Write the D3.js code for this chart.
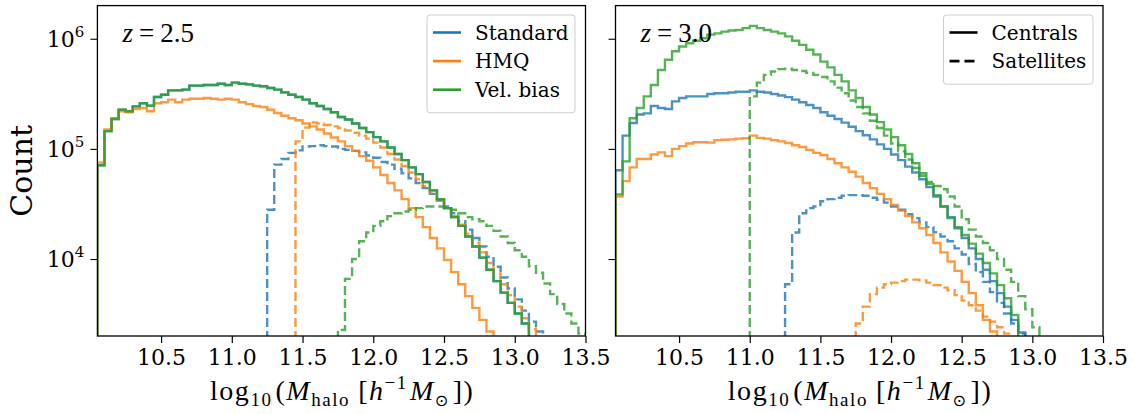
<!DOCTYPE html>
<html>
<head>
<meta charset="utf-8">
<script src="https://cdn.jsdelivr.net/npm/d3@7"></script>
<style>
body { margin: 0; background: #fff; }
text { font-family: "DejaVu Serif", serif; fill: #000; }
.math { font-family: "Liberation Serif", "DejaVu Serif", serif; }
</style>
</head>
<body>
<script>
const W = 1137, H = 414;

// binning and axes
const binWidth = 0.05;
const massDomain = [10.05, 13.5];
const countDomain = [2000, 2e6];
const xTicks = [10.5, 11.0, 11.5, 12.0, 12.5, 13.0, 13.5];
const yTicks = [1e4, 1e5, 1e6];
const models = ["Standard", "HMQ", "Vel. bias"];
const colors = ["#1f77b4", "#ff7f0e", "#2ca02c"];
const kinds = ["Centrals", "Satellites"];
const redshifts = ["2.5", "3.0"];

// first bin of each histogram (Standard, HMQ, Vel. bias)
const cenStart = [10.05, 10.05, 10.05];
const sat25Start = [11.25, 11.45, 11.75];
const sat30Start = [11.25, 11.75, 11.0];

// z = 2.5, centrals
const cen25Std = [7.1e4, 1.45e5, 1.87e5, 2.27e5, 2.2e5, 2.43e5, 2.6e5, 2.47e5, 2.96e5, 3.1e5,
  3.4e5, 3.4e5, 3.45e5, 3.75e5, 3.75e5, 3.8e5, 3.8e5, 3.9e5, 3.8e5, 4.0e5,
  3.9e5, 3.85e5, 3.75e5, 3.7e5, 3.57e5, 3.45e5, 3.26e5, 3.1e5, 2.96e5, 2.8e5,
  2.6e5, 2.45e5, 2.3e5, 2.15e5, 1.95e5, 1.85e5, 1.7e5, 1.55e5, 1.42e5, 1.28e5,
  1.17e5, 1.03e5, 9.0e4, 7.9e4, 6.8e4, 5.9e4, 5.0e4, 4.2e4, 3.5e4, 2.9e4,
  2.4e4, 2.0e4, 1.6e4, 1.3e4, 1.03e4, 8.0e3, 6.3e3, 4.95e3, 4.0e3, 3.2e3, 2.6e3];
const cen25Hmq = [7.5e4, 1.5e5, 1.9e5, 2.2e5, 2.15e5, 2.3e5, 2.35e5, 2.2e5, 2.6e5, 2.65e5,
  2.8e5, 2.65e5, 2.8e5, 2.85e5, 2.85e5, 2.9e5, 2.85e5, 2.8e5, 2.85e5, 2.8e5,
  2.65e5, 2.55e5, 2.45e5, 2.4e5, 2.27e5, 2.12e5, 2.0e5, 1.9e5, 1.82e5, 1.7e5,
  1.6e5, 1.5e5, 1.38e5, 1.27e5, 1.17e5, 1.06e5, 9.6e4, 8.6e4, 7.8e4, 6.8e4,
  5.8e4, 4.9e4, 4.2e4, 3.5e4, 2.9e4, 2.4e4, 1.95e4, 1.55e4, 1.25e4, 9.8e3,
  7.6e3, 5.9e3, 4.6e3, 3.6e3, 2.8e3, 2.2e3];
const cen25Vel = [7.1e4, 1.45e5, 1.87e5, 2.27e5, 2.2e5, 2.43e5, 2.6e5, 2.47e5, 2.96e5, 3.1e5,
  3.4e5, 3.4e5, 3.45e5, 3.75e5, 3.75e5, 3.8e5, 3.8e5, 3.9e5, 3.8e5, 4.0e5,
  3.9e5, 3.85e5, 3.75e5, 3.7e5, 3.57e5, 3.45e5, 3.26e5, 3.1e5, 2.96e5, 2.8e5,
  2.6e5, 2.45e5, 2.3e5, 2.15e5, 1.95e5, 1.85e5, 1.7e5, 1.55e5, 1.42e5, 1.28e5,
  1.17e5, 1.03e5, 9.0e4, 7.9e4, 6.8e4, 5.9e4, 5.0e4, 4.2e4, 3.5e4, 2.9e4,
  2.4e4, 2.0e4, 1.6e4, 1.3e4, 1.03e4, 8.0e3, 6.3e3, 4.95e3, 4.0e3, 3.2e3, 2.6e3];

// z = 2.5, satellites
const sat25Std = [2.8e4, 7.2e4, 8.1e4, 9.2e4, 9.7e4, 1.05e5, 1.06e5, 1.08e5, 1.06e5, 1.05e5,
  1.0e5, 9.8e4, 9.6e4, 9.3e4, 8.7e4, 8.3e4, 7.6e4, 7.2e4, 6.6e4, 6.0e4,
  5.4e4, 4.9e4, 4.4e4, 3.9e4, 3.4e4, 3.0e4, 2.6e4, 2.2e4, 1.85e4, 1.55e4,
  1.3e4, 1.05e4, 8.5e3, 6.8e3, 5.4e3, 4.3e3, 3.4e3, 2.7e3, 2.2e3];
const sat25Hmq = [1.17e5, 1.56e5, 1.74e5, 1.7e5, 1.65e5, 1.6e5, 1.55e5, 1.47e5, 1.4e5, 1.32e5,
  1.24e5, 1.14e5, 1.03e5, 9.0e4, 8.0e4, 7.0e4, 6.1e4, 5.3e4, 4.6e4, 4.0e4,
  3.4e4, 2.9e4, 2.45e4, 2.05e4, 1.7e4, 1.4e4, 1.15e4, 9.2e3, 7.4e3, 5.9e3,
  4.7e3, 3.7e3, 2.9e3, 2.3e3];
const sat25Vel = [2.27e3, 6.6e3, 1.0e4, 1.45e4, 1.74e4, 2.0e4, 2.2e4, 2.45e4, 2.6e4, 2.7e4,
  2.8e4, 2.9e4, 3.0e4, 3.0e4, 3.0e4, 2.9e4, 2.8e4, 2.6e4, 2.4e4, 2.3e4,
  2.2e4, 2.0e4, 1.8e4, 1.6e4, 1.4e4, 1.2e4, 1.05e4, 8.6e3, 7.5e3, 6.0e3,
  4.8e3, 3.9e3, 3.2e3, 2.6e3, 2.1e3];

// z = 3.0, centrals
const cen30Std = [6.4e4, 1.32e5, 1.72e5, 2.05e5, 2.1e5, 2.45e5, 2.35e5, 2.3e5, 2.7e5, 2.9e5,
  3.0e5, 3.0e5, 3.0e5, 3.15e5, 3.2e5, 3.2e5, 3.25e5, 3.3e5, 3.3e5, 3.4e5,
  3.3e5, 3.25e5, 3.15e5, 3.05e5, 2.95e5, 2.8e5, 2.65e5, 2.5e5, 2.35e5, 2.15e5,
  2.0e5, 1.87e5, 1.73e5, 1.59e5, 1.45e5, 1.33e5, 1.22e5, 1.1e5, 1.0e5, 8.9e4,
  7.9e4, 6.9e4, 6.1e4, 5.3e4, 4.5e4, 3.7e4, 3.0e4, 2.4e4, 1.9e4, 1.55e4,
  1.25e4, 1.0e4, 8.0e3, 6.3e3, 4.9e3, 3.7e3, 2.8e3, 2.15e3];
const cen30Hmq = [3.7e4, 5.1e4, 6.8e4, 8.1e4, 8.1e4, 8.9e4, 9.3e4, 8.6e4, 1.0e5, 1.06e5,
  1.12e5, 1.15e5, 1.15e5, 1.14e5, 1.2e5, 1.21e5, 1.22e5, 1.24e5, 1.25e5, 1.32e5,
  1.26e5, 1.24e5, 1.2e5, 1.17e5, 1.13e5, 1.08e5, 1.04e5, 9.8e4, 9.2e4, 8.8e4,
  8.1e4, 7.4e4, 6.8e4, 6.2e4, 5.6e4, 4.9e4, 4.4e4, 3.9e4, 3.5e4, 3.1e4,
  2.75e4, 2.45e4, 2.15e4, 1.9e4, 1.65e4, 1.4e4, 1.15e4, 9.5e3, 7.8e3, 6.2e3,
  4.9e3, 3.8e3, 2.8e3, 2.2e3];
const cen30Vel = [3.86e4, 7.7e4, 1.9e5, 2.35e5, 3.0e5, 3.8e5, 5.2e5, 6.45e5, 7.7e5, 8.5e5,
  9.1e5, 9.6e5, 1.01e6, 1.09e6, 1.12e6, 1.16e6, 1.19e6, 1.2e6, 1.25e6, 1.31e6,
  1.25e6, 1.2e6, 1.16e6, 1.12e6, 1.05e6, 9.6e5, 8.8e5, 7.95e5, 7.2e5, 6.2e5,
  5.5e5, 4.7e5, 4.1e5, 3.4e5, 2.9e5, 2.4e5, 2.05e5, 1.75e5, 1.5e5, 1.28e5,
  1.08e5, 9.0e4, 7.4e4, 6.0e4, 4.8e4, 3.8e4, 3.0e4, 2.35e4, 1.95e4, 1.65e4,
  1.38e4, 1.12e4, 9.2e3, 7.4e3, 5.8e3, 4.4e3, 3.1e3];

// z = 3.0, satellites
const sat30Std = [5.9e3, 1.74e4, 2.6e4, 2.9e4, 3.0e4, 3.35e4, 3.5e4, 3.6e4, 3.75e4, 3.8e4,
  3.8e4, 3.75e4, 3.6e4, 3.45e4, 3.25e4, 3.0e4, 2.8e4, 2.55e4, 2.35e4, 2.15e4,
  1.95e4, 1.75e4, 1.6e4, 1.45e4, 1.25e4, 1.1e4, 9.0e3, 7.6e3, 6.2e3, 5.0e3,
  4.0e3, 3.2e3, 2.6e3, 2.1e3];
const sat30Hmq = [2.6e3, 3.7e3, 4.8e3, 5.5e3, 5.9e3, 6.1e3, 6.3e3, 6.5e3, 6.5e3, 6.4e3,
  6.1e3, 5.8e3, 5.5e3, 5.2e3, 4.7e3, 4.2e3, 3.8e3, 3.4e3, 3.0e3, 2.7e3,
  2.4e3, 2.1e3];
const sat30Vel = [3.0e5, 4.0e5, 4.7e5, 5.05e5, 5.3e5, 5.35e5, 5.2e5, 5.1e5, 4.9e5, 4.7e5,
  4.5e5, 4.1e5, 3.6e5, 3.2e5, 2.75e5, 2.4e5, 2.1e5, 1.8e5, 1.55e5, 1.32e5,
  1.12e5, 9.5e4, 8.0e4, 6.7e4, 5.7e4, 5.0e4, 4.6e4, 4.3e4, 3.7e4, 3.0e4,
  2.3e4, 1.85e4, 1.6e4, 1.4e4, 1.2e4, 1.0e4, 8.0e3, 6.2e3, 4.6e3, 3.5e3, 2.4e3];

const panels = [
  {z: redshifts[0], left: 97.4, right: 585.5,
   cen: [cen25Std, cen25Hmq, cen25Vel], sat: [sat25Std, sat25Hmq, sat25Vel], satStart: sat25Start},
  {z: redshifts[1], left: 615.5, right: 1103,
   cen: [cen30Std, cen30Hmq, cen30Vel], sat: [sat30Std, sat30Hmq, sat30Vel], satStart: sat30Start}
];
const plotTop = 5.6, plotBottom = 336;

const svg = d3.select("body").append("svg").attr("width", W).attr("height", H);
const y = d3.scaleLog().domain(countDomain).range([plotBottom, plotTop]);

function stepPath(x, start, counts) {
  const yb = plotBottom + 4;
  const pts = [];
  const e = i => x(start + i * binWidth);
  pts.push([e(0), yb]);
  counts.forEach((c, i) => {
    const yy = Math.min(y(c), yb);
    pts.push([e(i), yy], [e(i + 1), yy]);
  });
  pts.push([e(counts.length), yb]);
  return d3.line()(pts);
}

panels.forEach((p, pi) => {
  const x = d3.scaleLinear().domain(massDomain).range([p.left, p.right]);
  const g = svg.append("g");

  g.append("clipPath").attr("id", "clip" + pi)
    .append("rect").attr("x", p.left).attr("y", plotTop)
    .attr("width", p.right - p.left).attr("height", plotBottom - plotTop);

  const plot = g.append("g").attr("clip-path", "url(#clip" + pi + ")");
  models.forEach((m, mi) => {
    plot.append("path")
      .attr("d", stepPath(x, cenStart[mi], p.cen[mi]))
      .attr("fill", "none").attr("stroke", colors[mi]).attr("stroke-opacity", 0.8)
      .attr("stroke-width", 2.4);
    plot.append("path")
      .attr("d", stepPath(x, p.satStart[mi], p.sat[mi]))
      .attr("fill", "none").attr("stroke", colors[mi]).attr("stroke-opacity", 0.8)
      .attr("stroke-width", 2.4).attr("stroke-dasharray", "9,4");
  });

  // x axis
  const xa = g.append("g").attr("transform", `translate(0,${plotBottom})`)
    .call(d3.axisBottom(x).tickValues(xTicks).tickFormat(d3.format(".1f")).tickSize(7).tickPadding(6));
  xa.select(".domain").remove();
  xa.selectAll("line").attr("stroke-width", 1.2);
  xa.selectAll("text").attr("font-size", 22).attr("font-family", "DejaVu Serif");

  // y axis (major + minor)
  const minor = [];
  for (let k = 3; k <= 6; k++) for (let j = 2; j <= 9; j++) {
    const v = j * Math.pow(10, k);
    if (v >= countDomain[0] && v <= countDomain[1]) minor.push(v);
  }
  const ya = g.append("g").attr("transform", `translate(${p.left},0)`);
  ya.call(d3.axisLeft(y).tickValues(minor).tickSize(4).tickFormat(""));
  ya.call(d3.axisLeft(y).tickValues(yTicks).tickSize(7).tickFormat(""));
  ya.selectAll(".domain").remove();
  ya.selectAll("line").attr("stroke-width", 1.1);

  if (pi === 0) {
    yTicks.forEach(v => {
      const t = svg.append("text").attr("x", p.left - 13).attr("y", y(v) + 8)
        .attr("text-anchor", "end").attr("font-size", 22);
      t.append("tspan").text("10");
      t.append("tspan").attr("font-size", 15).attr("dy", -10).text(Math.round(Math.log10(v)));
    });
    svg.append("text").attr("transform", `translate(32,${(plotTop + plotBottom) / 2}) rotate(-90)`)
      .attr("text-anchor", "middle").attr("font-size", 30).text("Count");
  }

  // frame
  g.append("rect").attr("x", p.left).attr("y", plotTop)
    .attr("width", p.right - p.left).attr("height", plotBottom - plotTop)
    .attr("fill", "none").attr("stroke", "#000").attr("stroke-width", 1.3);

  // redshift tag
  const zt = g.append("text").attr("class", "math").attr("x", p.left + 25).attr("y", 42)
    .attr("font-size", 27);
  zt.append("tspan").attr("font-style", "italic").text("z");
  zt.append("tspan").attr("dx", 6).text("=");
  zt.append("tspan").attr("dx", 6).text(p.z);

  // x label
  const cx = (p.left + p.right) / 2;
  const xl = g.append("text").attr("class", "math").attr("x", cx).attr("y", 400)
    .attr("text-anchor", "middle").attr("font-size", 28)
    .attr("textLength", 263).attr("lengthAdjust", "spacing");
  xl.append("tspan").text("log");
  xl.append("tspan").attr("font-size", 19).attr("dy", 6).text("10");
  xl.append("tspan").attr("dy", -6).attr("dx", 3).text("(");
  xl.append("tspan").attr("font-style", "italic").text("M");
  xl.append("tspan").attr("font-size", 19).attr("dy", 6).text("halo");
  xl.append("tspan").attr("dy", -6).attr("dx", 8).text("[");
  xl.append("tspan").attr("font-style", "italic").text("h");
  xl.append("tspan").attr("font-size", 19).attr("dy", -11).text("\u22121");
  xl.append("tspan").attr("font-style", "italic").attr("dy", 11).attr("dx", 2).text("M");
  xl.append("tspan").attr("font-size", 16).attr("dy", 6).attr("font-family", "DejaVu Sans").text("\u2299");
  xl.append("tspan").attr("dy", -6).attr("dx", 3).text("])");
});

// legends
function legend(x0, x1, items) {
  const lg = svg.append("g");
  lg.append("rect").attr("x", x0).attr("y", 15).attr("width", x1 - x0)
    .attr("height", 12 + items.length * 28.6).attr("rx", 3)
    .attr("fill", "#fff").attr("fill-opacity", 0.8).attr("stroke", "#ccc");
  items.forEach((it, i) => {
    const yy = 32.5 + i * 28.6;
    lg.append("line").attr("x1", x0 + 6).attr("x2", x0 + 34).attr("y1", yy).attr("y2", yy)
      .attr("stroke", it.color).attr("stroke-width", 2.6)
      .attr("stroke-dasharray", it.dash || null);
    lg.append("text").attr("x", x0 + 48).attr("y", yy + 7).attr("font-size", 20).text(it.label);
  });
}
legend(427, 575, models.map((m, i) => ({label: m, color: colors[i]})));
legend(943.5, 1093, [{label: kinds[0], color: "#000"}, {label: kinds[1], color: "#000", dash: "10,5"}]);
</script>
</body>
</html>
